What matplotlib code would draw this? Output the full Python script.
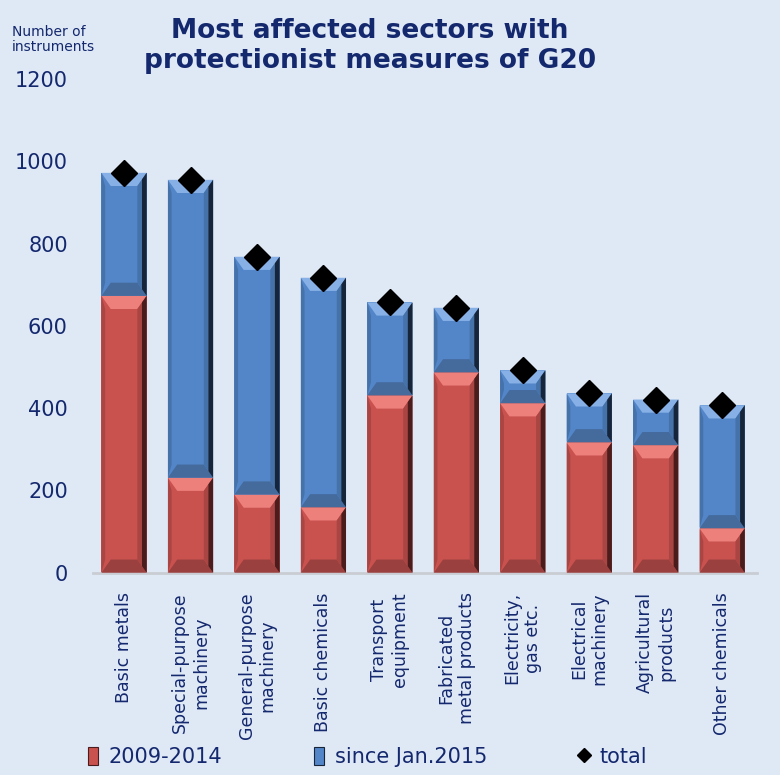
import matplotlib
matplotlib.use("Agg")
import matplotlib.pyplot as plt
from matplotlib.patches import Polygon, Patch
from matplotlib.lines import Line2D

sectors = ["Basic metals", "Special-purpose\nmachinery", "General-purpose\nmachinery",
           "Basic chemicals", "Transport\nequipment", "Fabricated\nmetal products",
           "Electricity,\ngas etc.", "Electrical\nmachinery", "Agricultural\nproducts",
           "Other chemicals"]
early = [673, 231, 190, 159, 431, 487, 412, 317, 310, 108]     # 2009-2014
recent = [299, 724, 578, 558, 226, 157, 80, 119, 111, 299]     # since Jan.2015
totals = [a + b for a, b in zip(early, recent)]

BG = "#DFE8F5"
NAVY = "#14286E"
RED = dict(main="#C9524F", light="#EE807C", mid="#A94543", dark="#4A1C1B", bot="#9A403E")
BLUE = dict(main="#5386C8", light="#86B0E6", mid="#4672AA", dark="#16253A", bot="#456A9C")

fig = plt.figure(figsize=(7.8, 7.75), dpi=100, facecolor=BG)
ax = fig.add_axes([0.119, 0.261, 0.852, 0.637], facecolor=BG)

width = 0.68
x = list(range(len(sectors)))


def bevel_bar(x0, bottom, height, pal):
    left, right = x0 - width / 2, x0 + width / 2
    top = bottom + height
    ax.bar(x0, height, width, bottom=bottom, color=pal["main"], linewidth=0, zorder=2)
    dx = 0.14
    dy = min(32, height / 2)
    pieces = [
        ([(left, top), (right, top), (right - dx, top - dy), (left + dx, top - dy)], pal["light"]),
        ([(left, bottom), (right, bottom), (right - dx, bottom + dy), (left + dx, bottom + dy)], pal["bot"]),
        ([(left, bottom), (left + dx * 0.4, bottom + dy), (left + dx * 0.4, top - dy), (left, top)], pal["mid"]),
        ([(right, bottom), (right - dx, bottom + dy), (right - dx, top - dy), (right, top)], pal["mid"]),
        ([(right, bottom), (right - dx * 0.5, bottom + dy * 0.5), (right - dx * 0.5, top - dy * 0.5), (right, top)], pal["dark"]),
    ]
    for pts, c in pieces:
        ax.add_patch(Polygon(pts, closed=True, facecolor=c, edgecolor="none", zorder=3))


for i in x:
    bevel_bar(i, 0, early[i], RED)
    bevel_bar(i, early[i], recent[i], BLUE)

ax.plot(x, totals, linestyle="none", marker="D", markersize=13, color="black", zorder=5)

ax.set_ylim(0, 1200)
ax.set_xlim(-0.47, len(sectors) - 0.47)
ax.set_yticks(range(0, 1201, 200))
ax.set_xticks(x)
ax.set_xticklabels(sectors, rotation=90, ha="center", va="top", multialignment="center")
ax.tick_params(axis="x", length=0, pad=14, labelsize=12.5, labelcolor=NAVY)
ax.tick_params(axis="y", length=0, pad=18, labelsize=15, labelcolor=NAVY)
for s in ["top", "right", "left"]:
    ax.spines[s].set_visible(False)
ax.spines["bottom"].set_color("#C9CDD3")
ax.spines["bottom"].set_linewidth(2)

fig.text(0.474, 0.977, "Most affected sectors with\nprotectionist measures of G20",
         ha="center", va="top", fontsize=19, fontweight="bold", color=NAVY, linespacing=1.2)
fig.text(0.015, 0.968, "Number of\ninstruments", ha="left", va="top", fontsize=10,
         color=NAVY, linespacing=1.15)

handles = [Patch(facecolor=RED["main"], edgecolor=RED["dark"], linewidth=0.8),
           Patch(facecolor=BLUE["main"], edgecolor=BLUE["dark"], linewidth=0.8),
           Line2D([], [], linestyle="none", marker="D", markersize=7, color="black")]
fig.legend(handles, ["2009-2014", "since Jan.2015", "total"], loc="center",
           bbox_to_anchor=(0.471, 0.023), ncol=3, frameon=False, fontsize=15,
           labelcolor=NAVY, handlelength=0.5, handleheight=0.9, handletextpad=0.5,
           columnspacing=4.4)

fig.savefig("out.png", dpi=100, facecolor=BG)
